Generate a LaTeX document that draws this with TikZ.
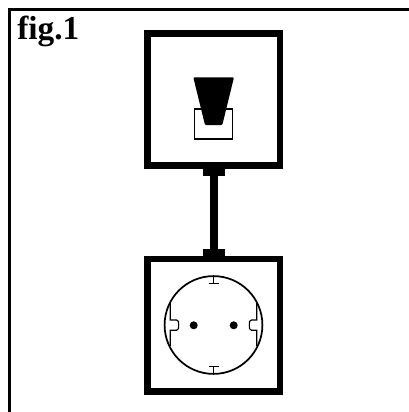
\documentclass[tikz,border=0pt]{standalone}
\usepackage{fontspec}
\setmainfont{Liberation Serif}
\begin{document}
\begin{tikzpicture}[x=0.75pt,y=-0.75pt,
  heavy/.style={draw=black,line width=4.95pt,line join=miter},
  thinline/.style={draw=black,line width=0.85pt},
  midline/.style={draw=black,line width=1.3pt},
  lab/.style={font=\bfseries\fontsize{25}{28}\selectfont,inner sep=0pt,anchor=base west}]
\useasboundingbox (0,0) rectangle (409,412);
\fill[white] (0,0) rectangle (409,412);
\draw[line width=2.2pt] (9.5,412) -- (9.5,9.5) -- (409,9.5);
\node[lab] (t) at (17,39) {fig.1};
% top box
\draw[heavy] (147.7,33.7) rectangle (280,165.7);
% switch
\draw[thinline] (194.7,109) rectangle (232.8,139);
\fill[black,rounded corners=0.8pt] (193.3,77.3) -- (234,77.3) -- (222.3,125) -- (205,125) -- cycle;
% connector
\fill[black] (202.7,168) rectangle (225,175.7);
\fill[black] (210,175) rectangle (217.7,250);
\fill[black] (202.7,249) rectangle (225,257);
% bottom box
\draw[heavy] (147.7,259) rectangle (280,391.3);
% socket
\coordinate (c) at (213.5,325);
\draw[midline] (c) circle (48.9);
\fill (193.7,325.3) circle (4);
\fill (233.7,325.3) circle (4);
\draw[thinline] (213.7,276) -- (213.7,283.3) (208.7,283.3) -- (219,283.3);
\draw[thinline] (213.7,374) -- (213.7,366.7) (208.7,366.7) -- (219,366.7);
\draw[thinline] (170.3,303) -- (170.3,320) -- (176.5,320) .. controls (178.7,320) and (178.7,322) .. (178.7,325) .. controls (178.7,328) and (178.7,330.3) .. (176.5,330.3) -- (170.3,330.3) -- (170.3,346);
\draw[thinline] (256.7,303) -- (256.7,320) -- (251.5,320) .. controls (249.3,320) and (249.3,322) .. (249.3,325) .. controls (249.3,328) and (249.3,330.3) .. (251.5,330.3) -- (256.7,330.3) -- (256.7,346);
\end{tikzpicture}
\end{document}
